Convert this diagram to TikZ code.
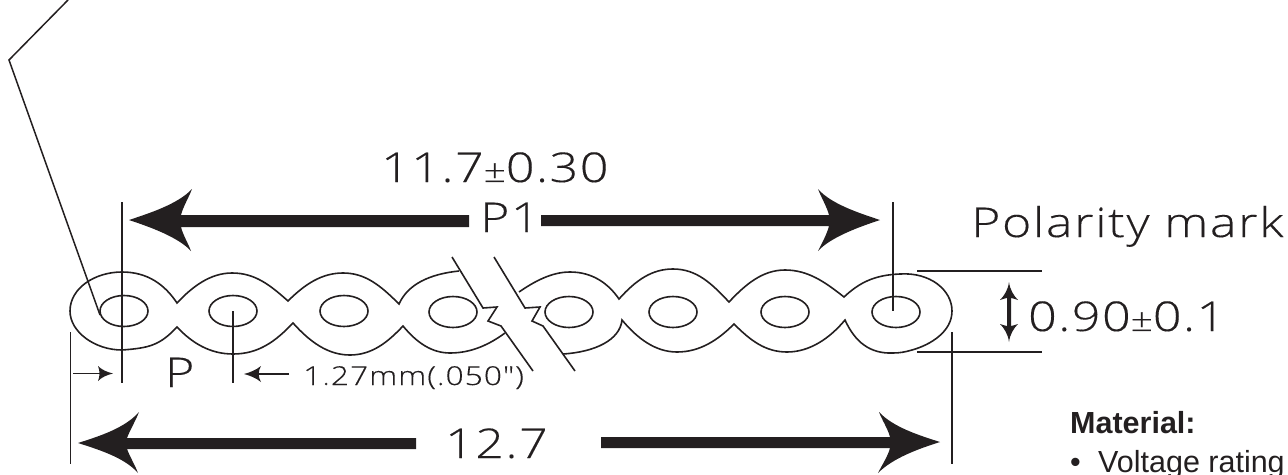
\documentclass[tikz,border=0pt]{standalone}
\usepackage{fontspec}
\setmainfont{Liberation Sans}
\newfontfamily\dimfont[UprightFont={* Light},FakeStretch=1.22,FakeBold=0.25,LetterSpace=4]{Open Sans}
\definecolor{ink}{HTML}{231F20}
\tikzset{
  cable/.style={draw=ink,line width=1.6pt,line join=miter},
  thin line/.style={draw=ink,line width=1.5pt},
  hole/.style={draw=ink,line width=1.6pt,ellipse,minimum width=48pt,minimum height=31pt,inner sep=0pt},
  solid head/.style={fill=ink,draw=none},
  dimtext/.style={anchor=base west,inner sep=0pt,text=ink},
}
\usetikzlibrary{shapes.geometric}
\newcommand{\dimf}[1]{\fontsize{#1}{#1}\dimfont}
\begin{document}
\begin{tikzpicture}[x=1pt,y=-1pt]
\useasboundingbox (0,0) rectangle (1288,474);
\clip (0,0) rectangle (1288,474);
% cable holes
\foreach \n/\x/\y in {a/124/311,b/233/311,c/344/311,d/453/312,e/569/312,f/673/312,g/785/312,h/896/312}
  \node[hole] (\n) at (\x,\y) {};
% left part
\draw[cable] (459,271) .. controls (430,274) and (408,284) .. (399,304)
  .. controls (380,285) and (365,273) .. (343,273) .. controls (322,273) and (305,284) .. (288,301)
  .. controls (270,285) and (255,273) .. (232,273) .. controls (210,273) and (192,287) .. (177,303)
  .. controls (165,285) and (148,272) .. (122,272) .. controls (95,272) and (70,288) .. (70,311)
  .. controls (70,332) and (95,350) .. (122,350) .. controls (150,348) and (160,345) .. (177,327)
  .. controls (192,343) and (210,354) .. (233,354) .. controls (258,354) and (275,342) .. (293,323)
  .. controls (310,342) and (328,355) .. (350,355) .. controls (372,355) and (388,342) .. (403,326)
  .. controls (417,343) and (432,353) .. (450,353) .. controls (472,353) and (490,344) .. (505,333);
% right part
\draw[cable] (519,292) .. controls (535,281) and (552,272) .. (570,272) .. controls (592,272) and (608,283) .. (619,299)
  .. controls (636,280) and (652,269) .. (673,269) .. controls (697,269) and (712,284) .. (729,302)
  .. controls (745,285) and (762,270) .. (785,270) .. controls (808,270) and (825,282) .. (844,297)
  .. controls (860,282) and (875,275) .. (900,274) .. controls (930,272) and (952,290) .. (952,311)
  .. controls (952,332) and (930,345) .. (912,350) .. controls (905,352) and (900,353) .. (893,353)
  .. controls (870,354) and (855,342) .. (845,320)
  .. controls (830,338) and (810,352) .. (787,352) .. controls (765,352) and (750,340) .. (734,324)
  .. controls (718,340) and (700,352) .. (677,352) .. controls (655,352) and (637,338) .. (622,320)
  .. controls (620,340) and (595,352) .. (563,354);
% break lines
\draw[cable] (452,257) -- (483,308) -- (497,307) -- (488,321) -- (501,326) -- (533,371);
\draw[cable] (494,257) -- (525,308) -- (540,307) -- (532,321) -- (543,326) -- (575,371);
% leader
\coordinate (lead0) at (68,0); \coordinate (lead1) at (9,60); \coordinate (lead2) at (100,315);
\draw[thin line] (lead0) -- (lead1) -- (lead2);
% extension lines
\draw[thin line] (122,202) -- (122,383);
\draw[thin line] (233,311) -- (233,383);
\draw[thin line] (70.5,332) -- (70.5,464);
\draw[thin line] (952,332) -- (952,464);
\draw[thin line] (893,202) -- (893,311);
\draw[thin line] (917,271) -- (1042,271);
\draw[thin line] (917,352) -- (1042,352);
% small arrows
\draw[thin line,line width=1.8pt] (73,373.5) -- (108,373.5);
\fill[solid head] (113,373.5) .. controls (107,372) and (102,370) .. (98,366) .. controls (100,371) and (100,376) .. (98,381) .. controls (102,377) and (107,375) .. (113,373.5) -- cycle;
\draw[draw=ink,line width=2.6pt] (289,374) -- (252,374);
\fill[solid head] (244,374) .. controls (250,372.5) and (256,370) .. (261,366) .. controls (258,371) and (258,377) .. (261,382) .. controls (256,378) and (250,375.5) .. (244,374) -- cycle;
% big arrows
\fill[solid head] (78,443) .. controls (100,436) and (125,428) .. (139,412) .. controls (136,420) and (130,430) .. (127,438) -- (416,438) -- (416,449) -- (127,449) .. controls (130,457) and (135,465) .. (138,473) .. controls (125,458) and (100,450) .. (78,443) -- cycle;
\fill[solid head] (940,442) .. controls (918,435) and (893,427) .. (879,412) .. controls (882,420) and (888,429) .. (890,437) -- (601,437) -- (601,448) -- (890,448) .. controls (888,456) and (882,465) .. (878,473) .. controls (893,458) and (918,449) .. (940,442) -- cycle;
\fill[solid head] (129,220) .. controls (150,213) and (178,204) .. (192,189) .. controls (189,197) and (183,207) .. (181,215) -- (469,215) -- (469,227) -- (181,227) .. controls (183,235) and (188,243) .. (191,251) .. controls (178,237) and (150,227) .. (129,220) -- cycle;
\fill[solid head] (880,220) .. controls (859,213) and (831,204) .. (818,189) .. controls (821,197) and (827,207) .. (829,215) -- (541,215) -- (541,226) -- (829,226) .. controls (827,234) and (822,243) .. (818,251) .. controls (831,237) and (859,227) .. (880,220) -- cycle;
% double arrow
\fill[solid head] (1009,282) .. controls (1010,290) and (1014,296) .. (1018,300) .. controls (1015,299) and (1012,298) .. (1011,298) -- (1011,326) .. controls (1012,326) and (1015,325) .. (1018,324) .. controls (1014,328) and (1010,334) .. (1009,342) .. controls (1008,334) and (1004,328) .. (1000,324) .. controls (1003,325) and (1006,326) .. (1007,326) -- (1007,298) .. controls (1006,298) and (1003,299) .. (1000,300) .. controls (1004,296) and (1008,290) .. (1009,282) -- cycle;
% dimension text
\node[dimtext] (d1) at (381,182) {\dimf{41}11.7{\fontsize{32}{32}\selectfont ±}0.30};
\node[dimtext] (d2) at (480,232) {\dimf{41}P1};
\node[dimtext] (d3) at (971,237) {\dimf{41}Polarity mark};
\node[dimtext] (d4) at (1028,331) {\dimf{41}0.90{\fontsize{32}{32}\selectfont ±}0.1};
\node[dimtext] (d5) at (165,387) {\dimf{41}P};
\node[dimtext] (d6) at (445,458) {\dimf{41}12.7};
\node[dimtext] (d7) at (303,385) {\dimf{26}1.27mm(.050″)};
% material
\node[dimtext] (m1) at (1070,433) {\fontsize{30.5}{30.5}\selectfont\bfseries Material:};
\node[dimtext] (m2) at (1070,472) {\fontsize{30.5}{30.5}\selectfont •};
\node[dimtext] (m3) at (1098,472) {\fontsize{30.5}{30.5}\selectfont Voltage rating};
\end{tikzpicture}
\end{document}
